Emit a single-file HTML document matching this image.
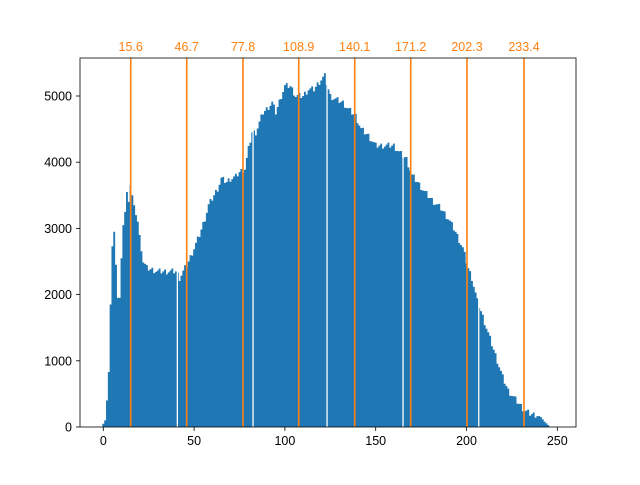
<!DOCTYPE html>
<html><head><meta charset="utf-8"><style>
body{margin:0;background:#fff;}
svg text{font-family:"Liberation Sans","DejaVu Sans",sans-serif;}
</style></head><body>
<svg id="s" width="640" height="480" xmlns="http://www.w3.org/2000/svg">
<rect width="640" height="480" fill="#fff"/>
<path id="bars" fill="#1f77b4" d=""/>
<g id="gp" fill="#fff"></g>
<g id="vl" stroke="#ff7f0e" stroke-width="1.6"></g>
<rect x="80" y="58" width="496" height="369" fill="none" stroke="#000" stroke-width="0.8"/>
<g id="ax" font-size="13" fill="#000"></g>
</svg>
<script>
var kp=[[0,50],[1,100],[2,400],[3,830],[4,1850],[5,2730],[6,2950],[7,2450],[8,1950],[9,1950],[10,2550],[11,3050],[12,3250],[13,3550],[14,3400],[15,3650],[16,3500],[17,3350],[18,3200],[19,3100],[20,2900],[21,2700],[22,2500],[23,2450],[24,2400],[30,2350],[40,2350],[42,2250],[45,2400],[47,2500],[50,2700],[53,2900],[56,3150],[58,3350],[61,3500],[63,3600],[65,3750],[68,3700],[70,3750],[73,3780],[75,3850],[78,3900],[80,4200],[82,4450],[84,4450],[86,4600],[88,4750],[90,4800],[93,4900],[95,4750],[98,5000],[100,5150],[103,5150],[106,5000],[110,5000],[113,5100],[116,5100],[120,5250],[122,5300],[125,5000],[128,4950],[132,4900],[135,4800],[139,4700],[142,4500],[146,4400],[150,4250],[155,4250],[160,4250],[163,4150],[167,4050],[170,3800],[173,3700],[177,3550],[182,3400],[186,3300],[190,3150],[194,2950],[198,2700],[201,2400],[203,2250],[206,1900],[208,1750],[211,1500],[214,1250],[217,1000],[220,750],[223,550],[226,450],[229,350],[232,250],[235,200],[239,180],[241,150],[243,80],[245,30],[246,0],[255,0]];
function f(v){for(var i=0;i<kp.length-1;i++){if(v>=kp[i][0]&&v<=kp[i+1][0]){var a=kp[i],b=kp[i+1];return a[1]+(b[1]-a[1])*(v-a[0])/(b[0]-a[0]);}}return 0;}
var gaps=[177.3,253,327,403,478.7];
var X=function(v){return 103.3+1.816*v;},Y=function(c){return 427-0.0662*c;};
var d='';
for(var v=0;v<246;v++){var c=f(v);if(v>20&&v<240)c+=((v*37)%7-3)*15;if(c<=0)continue;
var x0=X(v-0.5),x1=X(v+0.5),y=Y(c);
d+='M'+x0.toFixed(2)+' 427V'+y.toFixed(2)+'H'+(x1+0.05).toFixed(2)+'V427Z';}
document.getElementById('bars').setAttribute('d',d);
var g='';gaps.forEach(function(x){g+='<rect x="'+(x-0.6)+'" y="58" width="1.3" height="369"/>';});
document.getElementById('gp').innerHTML=g;
var L=[15.6,46.7,77.8,108.9,140.1,171.2,202.3,233.4],P=[130.7,186.7,243,298.7,354.7,410.7,467,524],vl='',ax='';
L.forEach(function(v,i){var x=P[i];vl+='<line x1="'+x+'" y1="58" x2="'+x+'" y2="427"/>';ax+='<text x="'+x+'" y="51" text-anchor="middle" fill="#ff7f0e" font-size="12.5">'+v.toFixed(1)+'</text>';});
document.getElementById('vl').innerHTML=vl;
[0,50,100,150,200,250].forEach(function(v){var x=X(v);ax+='<line x1="'+x+'" y1="427" x2="'+x+'" y2="431" stroke="#000" stroke-width="0.8"/><text x="'+x+'" y="445" text-anchor="middle" font-size="12.5">'+v+'</text>';});
[0,1000,2000,3000,4000,5000].forEach(function(c){var y=Y(c);ax+='<line x1="76" y1="'+y+'" x2="80" y2="'+y+'" stroke="#000" stroke-width="0.8"/><text x="72" y="'+(y+4.5)+'" text-anchor="end" font-size="12.5">'+c+'</text>';});
document.getElementById('ax').innerHTML=ax;
</script>
</body></html>
